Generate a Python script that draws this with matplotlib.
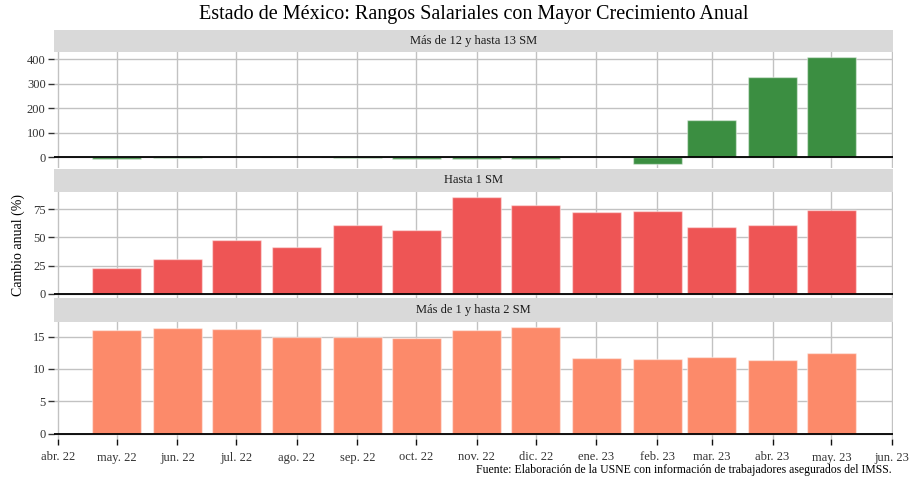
import matplotlib
matplotlib.use("Agg")
import matplotlib.pyplot as plt
import matplotlib.dates as mdates
import datetime as dt

plt.rcParams['font.family'] = ['Liberation Serif', 'DejaVu Serif']

months = ["2022-05", "2022-06", "2022-07", "2022-08", "2022-09", "2022-10", "2022-11",
          "2022-12", "2023-01", "2023-02", "2023-03", "2023-04", "2023-05"]
panel_titles = ["Más de 12 y hasta 13 SM", "Hasta 1 SM", "Más de 1 y hasta 2 SM"]
vals_12_13 = [-8, -5, -1, -1, -4, -8, -8, -8, -1, -29, 151, 327, 407]
vals_hasta1 = [22.6, 30.5, 47.6, 41.7, 60.9, 56.5, 85.9, 78.8, 72.4, 73.8, 59.1, 60.9, 74.4]
vals_1_2 = [15.97, 16.27, 16.12, 15.0, 14.95, 14.85, 16.02, 16.42, 11.63, 11.48, 11.79, 11.43, 12.44]
colors = ["#3B8E41", "#EE5555", "#FC8A6A"]
yticks = [[0, 100, 200, 300, 400], [0, 25, 50, 75], [0, 5, 10, 15]]
ylims = [(-44, 429), (-3.8, 90.3), (-0.8, 17.24)]
tick_dates = ["2022-04", "2022-05", "2022-06", "2022-07", "2022-08", "2022-09", "2022-10",
              "2022-11", "2022-12", "2023-01", "2023-02", "2023-03", "2023-04", "2023-05", "2023-06"]
tick_labels = ["abr. 22", "may. 22", "jun. 22", "jul. 22", "ago. 22", "sep. 22", "oct. 22",
               "nov. 22", "dic. 22", "ene. 23", "feb. 23", "mar. 23", "abr. 23", "may. 23", "jun. 23"]
title = "Estado de México: Rangos Salariales con Mayor Crecimiento Anual"
ylabel = "Cambio anual (%)"
caption = "Fuente: Elaboración de la USNE con información de trabajadores asegurados del IMSS."

def to_date(s):
    y, m = s.split("-")
    return dt.datetime(int(y), int(m), 1)

x = [to_date(m) for m in months]
xt = [to_date(m) for m in tick_dates]

W, H = 913, 482
fig = plt.figure(figsize=(W / 100, H / 100), dpi=100)
# panel pixel geometry: (strip_top, panel_top, panel_bottom)
geo = [(30, 52, 168), (169, 192, 298), (298, 322, 439)]
L, R = 54, 893
xmin = dt.datetime(2022, 3, 30)
xmax = dt.datetime(2023, 6, 1, 12)

data = [vals_12_13, vals_hasta1, vals_1_2]
axes = []
for i, (st, pt, pb) in enumerate(geo):
    ax = fig.add_axes([L / W, 1 - pb / H, (R - L) / W, (pb - pt) / H])
    axes.append(ax)
    ax.set_axisbelow(True)
    ax.grid(True, color="#C2C2C2", linewidth=1)
    ax.bar(x, data[i], width=25, color=colors[i], edgecolor=(1, 1, 1, 0.45), linewidth=1, zorder=2)
    ax.axhline(0, color="black", linewidth=1.3, zorder=3)
    ax.set_xlim(xmin, xmax)
    ax.set_ylim(*ylims[i])
    ax.set_yticks(yticks[i])
    ax.set_xticks(xt)
    for s in ax.spines.values():
        s.set_visible(False)
    ax.tick_params(axis="y", length=4, width=1, color="#333333", labelsize=9, labelcolor="#333333", pad=2)
    if i < 2:
        ax.tick_params(axis="x", length=0, labelbottom=False)
    else:
        ax.set_xticklabels(tick_labels)
        ax.tick_params(axis="x", length=4, width=1, color="#111111", labelsize=9, labelcolor="#333333", pad=5)
    # strip
    sax = fig.add_axes([L / W, 1 - pt / H, (R - L) / W, (pt - st) / H])
    sax.set_facecolor("#D9D9D9")
    sax.set_xticks([])
    sax.set_yticks([])
    for s in sax.spines.values():
        s.set_visible(False)
    sax.text(0.5, 0.5, panel_titles[i], ha="center", va="center", fontsize=9, color="#1a1a1a",
             transform=sax.transAxes)

fig.text((L + R) / 2 / W, 1 - 15 / H, title, ha="center", va="center", fontsize=14.5, color="black")
fig.text(18 / W, 1 - 245 / H, ylabel, ha="center", va="center", rotation=90, fontsize=10, color="black")
fig.text(892 / W, 1 - 470 / H, caption, ha="right", va="center", fontsize=8.5, color="black")

fig.savefig("out.png", dpi=100)
